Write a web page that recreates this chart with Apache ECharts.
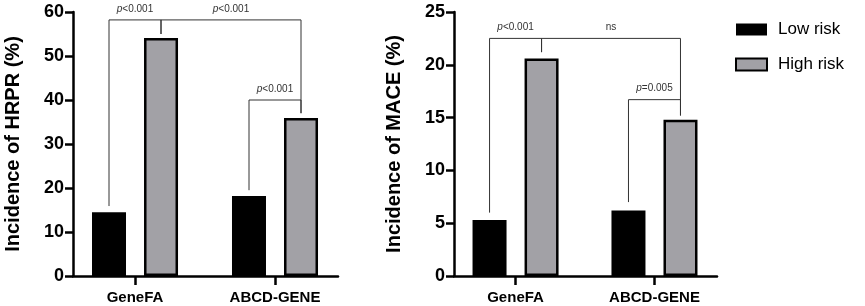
<!DOCTYPE html>
<html>
<head>
<meta charset="utf-8">
<script src="https://cdn.jsdelivr.net/npm/echarts@6/dist/echarts.min.js"></script>
<style>
  html, body { margin: 0; background: #fff; }
  #chart { width: 865px; height: 306px; }
</style>
</head>
<body>
<div id="chart"></div>
<script>
// data
const categories = ['GeneFA', 'ABCD-GENE'];
const seriesNames = ['Low risk', 'High risk'];
const hrprLow = [14.5, 18.2];
const hrprHigh = [54.1, 35.9];
const maceLow = [5.3, 6.2];
const maceHigh = [20.6, 14.8];
const hrprTicks = [0, 60, 10];   // min, max, step
const maceTicks = [0, 25, 5];

// significance brackets: a/b = [category, series, value where the leg stops], top = bar level
const hrprBrackets = [
    { a: [0, 0, 15.9], b: [0, 1, 55.0], top: 58.2, text: 'p<0.001' },
    { a: [0, 1, 55.0], b: [1, 1, 37.0], top: 58.2, text: 'p<0.001' },
    { a: [1, 0, 19.5], b: [1, 1, 37.0], top: 40.0, text: 'p<0.001' }
];
const maceBrackets = [
    { a: [0, 0, 6.0], b: [0, 1, 21.2], top: 22.5, text: 'p<0.001' },
    { a: [0, 1, 21.2], b: [1, 1, 15.2], top: 22.5, text: 'ns' },
    { a: [1, 0, 7.0], b: [1, 1, 15.2], top: 16.7, text: 'p=0.005' }
];

const FONT = 'Liberation Sans';
const BAR_W = 34;
const BAR_GAP = 18;
const SHIFT = (BAR_W + BAR_GAP) / 2; // bar centre offset from category

const chart = echarts.init(document.getElementById('chart'));

function xAxisOpt(idx) {
    return {
        type: 'value',
        gridIndex: idx,
        min: -0.443,
        max: 1.45,
        splitLine: { show: false },
        axisLine: { onZero: false, lineStyle: { color: '#000', width: 2.5 } },
        axisTick: { customValues: [0, 1], length: 9, lineStyle: { color: '#000', width: 2.5 } },
        axisLabel: {
            customValues: [0, 1],
            formatter: v => categories[Math.round(v)],
            margin: 14,
            color: '#000',
            fontSize: 15,
            fontWeight: 'bold',
            fontFamily: FONT
        }
    };
}

function yAxisOpt(idx, ticks, title) {
    return {
        type: 'value',
        gridIndex: idx,
        min: ticks[0],
        max: ticks[1],
        interval: ticks[2],
        name: title,
        nameLocation: 'middle',
        nameRotate: 90,
        nameGap: 50,
        nameTextStyle: { color: '#000', fontSize: 20, fontWeight: 'bold', fontFamily: FONT },
        splitLine: { show: false },
        axisLine: { show: true, onZero: false, lineStyle: { color: '#000', width: 2.5 } },
        axisTick: { show: true, length: 8, lineStyle: { color: '#000', width: 2.5 } },
        axisLabel: { margin: 9, color: '#000', fontSize: 18, fontWeight: 'bold', fontFamily: FONT }
    };
}

function barSeries(idx, name, values, high) {
    return {
        type: 'bar',
        name: name,
        xAxisIndex: idx,
        yAxisIndex: idx,
        data: values.map((v, i) => [i, v]),
        barWidth: BAR_W,
        barGap: (BAR_GAP / BAR_W * 100).toFixed(0) + '%',
        itemStyle: high
            ? { color: '#a2a1a6', borderColor: '#000', borderWidth: 2.5 }
            : { color: '#000' },
        emphasis: { disabled: true },
        silent: true
    };
}

function bracketSeries(idx, brackets) {
    return {
        type: 'custom',
        xAxisIndex: idx,
        yAxisIndex: idx,
        clip: false,
        silent: true,
        z: 5,
        data: brackets.map(b => [b.a[0], b.top]),
        renderItem: function (params, api) {
            const br = brackets[params.dataIndex];
            const p1 = api.coord([br.a[0], br.a[2]]);
            const p2 = api.coord([br.b[0], br.b[2]]);
            const yTop = api.coord([0, br.top])[1];
            const x1 = p1[0] + (br.a[1] ? SHIFT : -SHIFT);
            const x2 = p2[0] + (br.b[1] ? SHIFT : -SHIFT);
            const isP = br.text.charAt(0) === 'p';
            return {
                type: 'group',
                children: [
                    {
                        type: 'polyline',
                        shape: { points: [[x1, p1[1]], [x1, yTop], [x2, yTop], [x2, p2[1]]] },
                        style: { stroke: '#333', lineWidth: 1, fill: 'none' }
                    },
                    {
                        type: 'text',
                        x: (x1 + x2) / 2,
                        y: yTop - 6,
                        style: {
                            text: isP ? '{i|p}' + br.text.slice(1) : br.text,
                            fill: '#333',
                            fontSize: 10,
                            fontFamily: FONT,
                            align: 'center',
                            verticalAlign: 'bottom',
                            rich: { i: { fontStyle: 'italic', fontSize: 10, fontFamily: FONT, fill: '#333' } }
                        }
                    }
                ]
            };
        }
    };
}

const option = {
    animation: false,
    grid: [
        { left: 73, top: 12, width: 265, height: 264 },
        { left: 454, top: 12, width: 263, height: 264 }
    ],
    legend: {
        data: seriesNames,
        orient: 'vertical',
        left: 730,
        top: 16,
        itemWidth: 31,
        itemHeight: 12,
        itemGap: 18,
        icon: 'rect',
        selectedMode: false,
        textStyle: { color: '#000', fontSize: 17, fontFamily: FONT, padding: [0, 0, 0, 6] }
    },
    xAxis: [xAxisOpt(0), xAxisOpt(1)],
    yAxis: [
        yAxisOpt(0, hrprTicks, 'Incidence of HRPR (%)'),
        yAxisOpt(1, maceTicks, 'Incidence of MACE (%)')
    ],
    series: [
        barSeries(0, seriesNames[0], hrprLow, false),
        barSeries(0, seriesNames[1], hrprHigh, true),
        barSeries(1, seriesNames[0], maceLow, false),
        barSeries(1, seriesNames[1], maceHigh, true),
        bracketSeries(0, hrprBrackets),
        bracketSeries(1, maceBrackets)
    ]
};

chart.setOption(option);
window.addEventListener('resize', () => chart.resize());
</script>
</body>
</html>
